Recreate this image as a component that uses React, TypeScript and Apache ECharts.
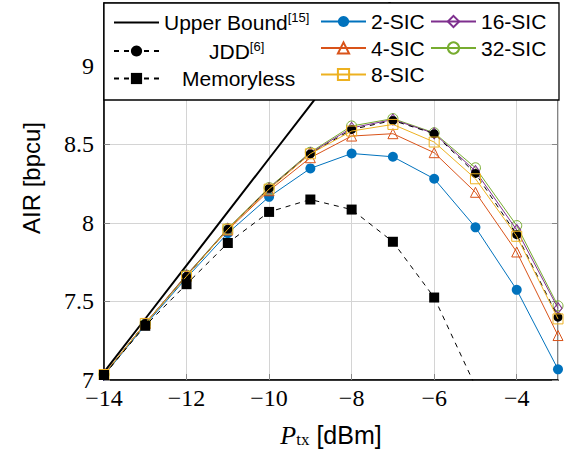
import React, { useEffect, useRef } from "react";
import * as echarts from "echarts";

const xValues = [-14, -13, -12, -11, -10, -9, -8, -7, -6, -5, -4, -3];
const upperBoundX = [-14, -13, -12, -11, -10, -9, -8, -7];
const upperBound = [7.05, 7.39, 7.73, 8.07, 8.41, 8.75, 9.09, 9.43];
const memorylessX = [-14, -13, -12, -11, -10, -9, -8, -7, -6, -5];
const memoryless = [7.032, 7.345, 7.61, 7.872, 8.07, 8.149, 8.085, 7.88, 7.525, 6.96];
const jdd = [7.03, 7.36, 7.66, 7.96, 8.22, 8.44, 8.595, 8.652, 8.568, 8.315, 7.925, 7.4];
const sic2 = [7.03, 7.35, 7.65, 7.935, 8.166, 8.347, 8.442, 8.421, 8.281, 7.972, 7.574, 7.068];
const sic4 = [7.035, 7.36, 7.67, 7.955, 8.205, 8.415, 8.553, 8.568, 8.447, 8.195, 7.815, 7.283];
const sic8 = [7.035, 7.36, 7.66, 7.96, 8.215, 8.44, 8.585, 8.627, 8.515, 8.281, 7.915, 7.389];
const sic16 = [7.035, 7.36, 7.665, 7.962, 8.22, 8.445, 8.605, 8.658, 8.57, 8.33, 7.955, 7.457];
const sic32 = [7.035, 7.36, 7.668, 7.965, 8.225, 8.45, 8.617, 8.664, 8.574, 8.351, 7.983, 7.472];

const yTicks = { min: 7, max: 9.4, interval: 0.5 };
const xTicks = { min: -14, max: -3, interval: 2 };
const yTitle = "AIR [bpcu]";

const pairs = (xs: number[], ys: number[]) => ys.map((y, i) => [xs[i], y]);

const SANS = "'Liberation Sans', Arial, sans-serif";
const SERIF = "'Liberation Serif', 'Times New Roman', serif";

const minus = (v: number) => (v < 0 ? "\u2212" + Math.abs(v) : String(v));

export default function App() {
  const ref = useRef<HTMLDivElement>(null);
  useEffect(() => {
    if (!ref.current) return;
    const chart = echarts.init(ref.current, null, { renderer: "svg" });

    const sicSeries = (name: string, data: number[], color: string, symbol: string, size: any, filled: boolean, z: number) => ({
      name,
      type: "line",
      data: pairs(xValues, data),
      symbol,
      symbolSize: size,
      showSymbol: true,
      z,
      lineStyle: { color, width: 1 },
      itemStyle: filled
        ? { color, borderColor: color, borderWidth: 0 }
        : { color: "rgba(255,255,255,0)", borderColor: color, borderWidth: 1 },
      emphasis: { disabled: true },
    });

    const legendText = {
      color: "#000",
      fontFamily: SANS,
      fontSize: 21,
      rich: {
        a: { fontFamily: SANS, fontSize: 21, lineHeight: 24, color: "#000" },
        s: { fontFamily: SANS, fontSize: 13, lineHeight: 24, color: "#000", padding: [0, 0, 10, 0] },
        p1: { width: 45, fontSize: 21, lineHeight: 24 },
        p2: { width: 18, fontSize: 21, lineHeight: 24 },
      },
    };

    const legendFormatter = (name: string) => {
      if (name === "Upper Bound") return "{a|Upper Bound}{s|[15]}";
      if (name === "JDD") return "{p1| }{a|JDD}{s|[6]}";
      if (name === "Memoryless") return "{p2| }{a|Memoryless}";
      return "{a|" + name + "}";
    };

    const legendBase = {
      orient: "vertical",
      top: 11,
      itemWidth: 45,
      itemHeight: 14,
      itemGap: 5.5,
      selectedMode: false,
      z: 20,
      padding: 0,
      textStyle: legendText,
      formatter: legendFormatter,
    };

    chart.setOption({
      animation: false,
      backgroundColor: "#fff",
      grid: {
        left: 104,
        right: 8,
        top: 3,
        bottom: 76,
        show: true,
        borderColor: "#444",
        borderWidth: 1.3,
        backgroundColor: "transparent",
      },
      legend: [
        {
          ...legendBase,
          left: 113,
          data: [
            { name: "Upper Bound", itemStyle: { color: "rgba(0,0,0,0)", borderColor: "rgba(0,0,0,0)", borderWidth: 0, opacity: 0 } },
            "JDD",
            "Memoryless",
          ],
        },
        { ...legendBase, left: 320, data: ["2-SIC", "4-SIC", "8-SIC"] },
        { ...legendBase, left: 430, data: ["16-SIC", "32-SIC"] },
      ],
      graphic: [
        {
          type: "rect",
          z: 15,
          shape: { x: 104, y: 3, width: 455, height: 97 },
          style: { fill: "#fff", stroke: "#000", lineWidth: 1.3 },
          silent: true,
        },
        {
          type: "text",
          x: 31,
          y: 178,
          rotation: Math.PI / 2,
          silent: true,
          style: {
            text: yTitle,
            fontFamily: SANS,
            fontSize: 24,
            fill: "#000",
            align: "center",
            verticalAlign: "middle",
          },
        },
      ],
      xAxis: [
        {
          type: "value",
          min: xTicks.min,
          max: xTicks.max,
          interval: xTicks.interval,
          name: "{p|P}{t|tx}{d| [dBm]}",
          nameLocation: "middle",
          nameGap: 40,
          nameTextStyle: {
            rich: {
              p: { fontFamily: SERIF, fontStyle: "italic", fontSize: 26, lineHeight: 30, color: "#000" },
              t: { fontFamily: SERIF, fontSize: 17, lineHeight: 30, color: "#000", padding: [9, 0, 0, 0] },
              d: { fontFamily: SANS, fontSize: 25, lineHeight: 30, color: "#000" },
            },
          },
          axisLine: { show: true, onZero: false, lineStyle: { color: "#000", width: 1.5 } },
          axisTick: { show: true, inside: true, length: 6, lineStyle: { color: "#888", width: 1 } },
          axisLabel: {
            fontFamily: SERIF,
            fontSize: 24,
            lineHeight: 22,
            color: "#000",
            margin: 7,
            showMaxLabel: false,
            formatter: (v: number) => minus(v),
          },
          splitLine: { show: true, lineStyle: { color: "#d4d4d4", width: 1 } },
        },
        {
          type: "value",
          position: "top",
          min: xTicks.min,
          max: xTicks.max,
          interval: xTicks.interval,
          axisLine: { show: false },
          axisTick: { show: true, inside: true, length: 6, lineStyle: { color: "#888", width: 1 } },
          axisLabel: { show: false },
          splitLine: { show: false },
        },
      ],
      yAxis: [
        {
          type: "value",
          min: yTicks.min,
          max: yTicks.max,
          interval: yTicks.interval,
          axisLine: { show: true, onZero: false, lineStyle: { color: "#000", width: 1.5 } },
          axisTick: { show: true, inside: true, length: 6, lineStyle: { color: "#888", width: 1 } },
          axisLabel: {
            fontFamily: SERIF,
            fontSize: 24,
            lineHeight: 14,
            color: "#000",
            margin: 10,
            showMaxLabel: false,
            formatter: (v: number) => minus(v),
          },
          splitLine: { show: true, lineStyle: { color: "#d4d4d4", width: 1 } },
        },
        {
          type: "value",
          position: "right",
          min: yTicks.min,
          max: yTicks.max,
          interval: yTicks.interval,
          axisLine: { show: false },
          axisTick: { show: true, inside: true, length: 6, lineStyle: { color: "#888", width: 1 } },
          axisLabel: { show: false },
          splitLine: { show: false },
        },
      ],
      series: [
        {
          name: "Upper Bound",
          type: "line",
          data: pairs(upperBoundX, upperBound),
          symbol: "none",
          z: 2,
          lineStyle: { color: "#000", width: 2 },
          itemStyle: { color: "#000" },
          emphasis: { disabled: true },
        },
        sicSeries("2-SIC", sic2, "#0072BD", "circle", 10, true, 3),
        sicSeries("4-SIC", sic4, "#D95319", "triangle", 10, false, 4),
        sicSeries("32-SIC", sic32, "#77AC30", "circle", 10, false, 5),
        sicSeries("16-SIC", sic16, "#7E2F8E", "diamond", [8, 11], false, 6),
        {
          name: "JDD",
          type: "line",
          data: pairs(xValues, jdd),
          symbol: "circle",
          symbolSize: 9,
          z: 7,
          lineStyle: { color: "#000", width: 1, type: [5, 5] },
          itemStyle: { color: "#000" },
          emphasis: { disabled: true },
        },
        sicSeries("8-SIC", sic8, "#EDB120", "rect", 10, false, 8),
        {
          name: "Memoryless",
          type: "line",
          data: pairs(memorylessX, memoryless),
          symbol: "rect",
          symbolSize: 10,
          z: 9,
          clip: true,
          lineStyle: { color: "#000", width: 1, type: [5, 5] },
          itemStyle: { color: "#000" },
          emphasis: { disabled: true },
        },
      ],
    });
    return () => chart.dispose();
  }, []);
  return (
    <div
      ref={ref}
      style={{ position: "fixed", left: 0, top: 0, width: 566, height: 456, background: "#fff" }}
    />
  );
}
